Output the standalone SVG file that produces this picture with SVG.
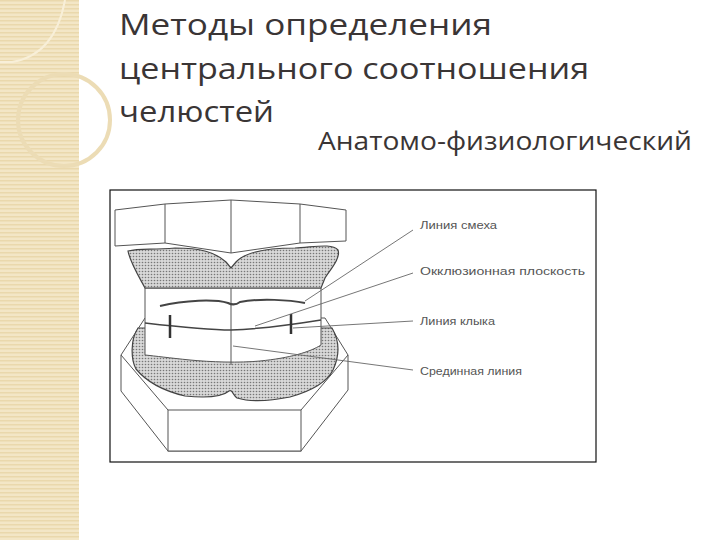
<svg xmlns="http://www.w3.org/2000/svg" width="720" height="540" viewBox="0 0 720 540">
<defs>
<pattern id="dots" width="3" height="3" patternUnits="userSpaceOnUse"><rect width="3" height="3" fill="#d8d8d8"/><circle cx="1.5" cy="1.5" r="0.8" fill="#777"/></pattern>
<pattern id="stripe" width="4" height="4" patternUnits="userSpaceOnUse"><rect width="4" height="4" fill="#f3e6c6"/><rect width="4" height="1.5" fill="#ead8ac"/></pattern>
</defs>
<style>
.t{font-family:"Open Sans",sans-serif;fill:#3a3535}
.l{font-family:"Liberation Sans",sans-serif;font-size:10.5px;fill:#555}
.d{fill:none;stroke:#555;stroke-width:1}
.g{fill:url(#dots);stroke:#444;stroke-width:1.2}
.w{fill:#fff;stroke:#555;stroke-width:1}
</style>
<rect width="720" height="540" fill="#fff"/>
<rect width="79" height="540" fill="url(#stripe)"/>
<path d="M0 62 H12 Q55 55 65 0" fill="none" stroke="#f8efd8" stroke-width="2"/>
<circle cx="64" cy="120" r="46" fill="none" stroke="#ecdcb5" stroke-width="4"/>
<g id="title">
<text class="t" x="119" y="35" font-size="30" textLength="373" lengthAdjust="spacingAndGlyphs">Методы определения</text>
<text class="t" x="119" y="79" font-size="30" textLength="470" lengthAdjust="spacingAndGlyphs">центрального соотношения</text>
<text class="t" x="119" y="122" font-size="30" textLength="155" lengthAdjust="spacingAndGlyphs">челюстей</text>
<text class="t" x="318" y="150" font-size="26" textLength="374" lengthAdjust="spacingAndGlyphs">Анатомо-физиологический</text>
</g>
<g id="picture">
<rect x="110" y="190" width="486" height="272" fill="#fff" stroke="#111" stroke-width="1.2"/>
<g id="lowerbase">
<polygon class="w" points="121,355 145,318 325,318 348,355 348,390 301,451 168,451 121,391"/>
<line class="d" x1="121" y1="355" x2="168" y2="410"/>
<line class="d" x1="348" y1="355" x2="301" y2="410"/>
<rect class="w" x="168" y="410" width="133" height="41"/>
</g>
<path id="lowergum" class="g" d="M138,328 C130,340 131,360 136,369 C145,380 160,390 185,396 C205,398 222,397 229,391 C232,389 233,395 237,398 C250,402 265,402 290,397 C315,390 328,380 333,370 C340,355 339,340 332,328 Z"/>
<g id="upperblock">
<polygon class="w" points="115,210 165,204 231,200 300,204 346,210 346,241 300,243 231,253 165,243 115,246"/>
<line class="d" x1="165" y1="204" x2="165" y2="243"/>
<line class="d" x1="231" y1="200" x2="231" y2="253"/>
<line class="d" x1="300" y1="204" x2="300" y2="243"/>
</g>
<path id="teeth" class="w" d="M145,288 H321 V345 C310,352 290,358 260,361 C240,363 210,362 190,360 C170,358 155,356 145,355 Z"/>
<path id="uppergum" class="g" d="M128,251 C140,248 150,250 175,248 C200,248 215,252 226,262 L231,268 L236,262 C245,252 265,248 295,248 C315,247 332,243 338,250 C341,258 330,270 325,278 L321,288 H145 C138,275 130,262 128,251 Z"/>
<line class="d" x1="231" y1="288" x2="231" y2="365" stroke-width="1.5"/>
<path d="M160,306 C185,300 215,299 228,303 C232,305 236,305 240,302 C260,298 290,300 305,303" fill="none" stroke="#444" stroke-width="2"/>
<path d="M145,323 C180,327 215,330 231,330 C260,329 290,325 321,320" fill="none" stroke="#444" stroke-width="1.5"/>
<line x1="170" y1="315" x2="170" y2="338" stroke="#333" stroke-width="2.5"/>
<line x1="291" y1="314" x2="291" y2="334" stroke="#333" stroke-width="2.5"/>
</g>
<g id="connectors" fill="none" stroke="#666" stroke-width="0.9">
<line x1="413" y1="230" x2="305" y2="301"/>
<line x1="413" y1="273" x2="255" y2="326"/>
<line x1="413" y1="321" x2="293" y2="328"/>
<line x1="413" y1="370" x2="233" y2="346"/>
</g>
<g id="labels">
<text class="l" x="420" y="229" textLength="77" lengthAdjust="spacingAndGlyphs">Линия смеха</text>
<text class="l" x="420" y="275" textLength="165" lengthAdjust="spacingAndGlyphs">Окклюзионная плоскость</text>
<text class="l" x="420" y="325" textLength="75" lengthAdjust="spacingAndGlyphs">Линия клыка</text>
<text class="l" x="420" y="375" textLength="102" lengthAdjust="spacingAndGlyphs">Срединная линия</text>
</g>
</svg>
